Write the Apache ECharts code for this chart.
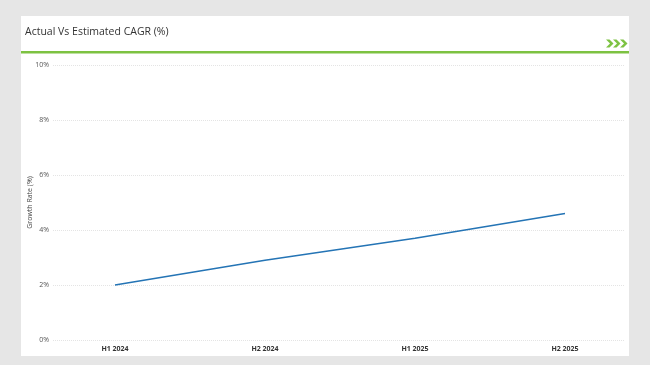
<!DOCTYPE html>
<html>
<head>
<meta charset="utf-8">
<script src="https://cdn.jsdelivr.net/npm/echarts@6/dist/echarts.min.js"></script>
<style>
html,body{margin:0;padding:0;background:#e6e6e6;}
#chart{width:650px;height:365px;}
</style>
</head>
<body>
<div id="chart"></div>
<script>
var categories = ['H1 2024', 'H2 2024', 'H1 2025', 'H2 2025'];
var growthRate = [2.0, 2.9, 3.7, 4.6];
var yTicks = { min: 0, max: 10, interval: 2 };
var titleText = 'Actual Vs Estimated CAGR (%)';
var yAxisName = 'Growth Rate (%)';

var chart = echarts.init(document.getElementById('chart'), null, { renderer: 'canvas' });
var green = '#7dc242';
function chevron(x) {
  return {
    type: 'polygon', silent: true,
    shape: { points: [[x, 39.5], [x + 3.5, 39.5], [x + 7.5, 43.5], [x + 3.5, 47.5], [x, 47.5], [x + 4, 43.5]] },
    style: { fill: green }
  };
}
chart.setOption({
  backgroundColor: '#e6e6e6',
  animation: false,
  graphic: [
    { type: 'rect', z: -10, silent: true, shape: { x: 21, y: 16, width: 608, height: 340 }, style: { fill: '#ffffff' } },
    { type: 'text', left: 25, top: 27, style: { text: titleText, fontSize: 10.5, fontFamily: 'Open Sans', fill: '#333333' } },
    { type: 'rect', silent: true, shape: { x: 21, y: 51, width: 608, height: 2.5 }, style: { fill: green } },
    chevron(606), chevron(613), chevron(620)
  ],
  grid: [
    { left: 53, right: 25, top: 65, bottom: 25 },
    { left: 115, right: 85, top: 65, bottom: 25 }
  ],
  xAxis: [
    { gridIndex: 0, type: 'category', data: categories, show: false },
    {
      gridIndex: 1, type: 'category', data: categories, boundaryGap: false,
      axisLine: { show: false }, axisTick: { show: false },
      axisLabel: { fontSize: 7, color: '#333333', fontWeight: 'bold', fontFamily: 'Open Sans', margin: 5 }
    }
  ],
  yAxis: [
    {
      gridIndex: 0, type: 'value', min: yTicks.min, max: yTicks.max, interval: yTicks.interval,
      name: yAxisName, nameLocation: 'middle', nameRotate: 90, nameGap: 20, nameMoveOverlap: false,
      nameTextStyle: { fontSize: 7, color: '#444444', fontFamily: 'Open Sans' },
      axisLine: { show: false }, axisTick: { show: false },
      axisLabel: { formatter: '{value}%', fontSize: 7, color: '#555555', fontFamily: 'Open Sans', margin: 4 },
      splitLine: { show: true, lineStyle: { type: 'dotted', color: '#e4e4e4', width: 1 } }
    },
    { gridIndex: 1, type: 'value', min: yTicks.min, max: yTicks.max, show: false, splitLine: { show: false } }
  ],
  series: [
    {
      type: 'line', xAxisIndex: 1, yAxisIndex: 1, data: growthRate,
      showSymbol: false, symbol: 'none',
      lineStyle: { color: '#2474b5', width: 1.5 }
    }
  ]
});
</script>
</body>
</html>
